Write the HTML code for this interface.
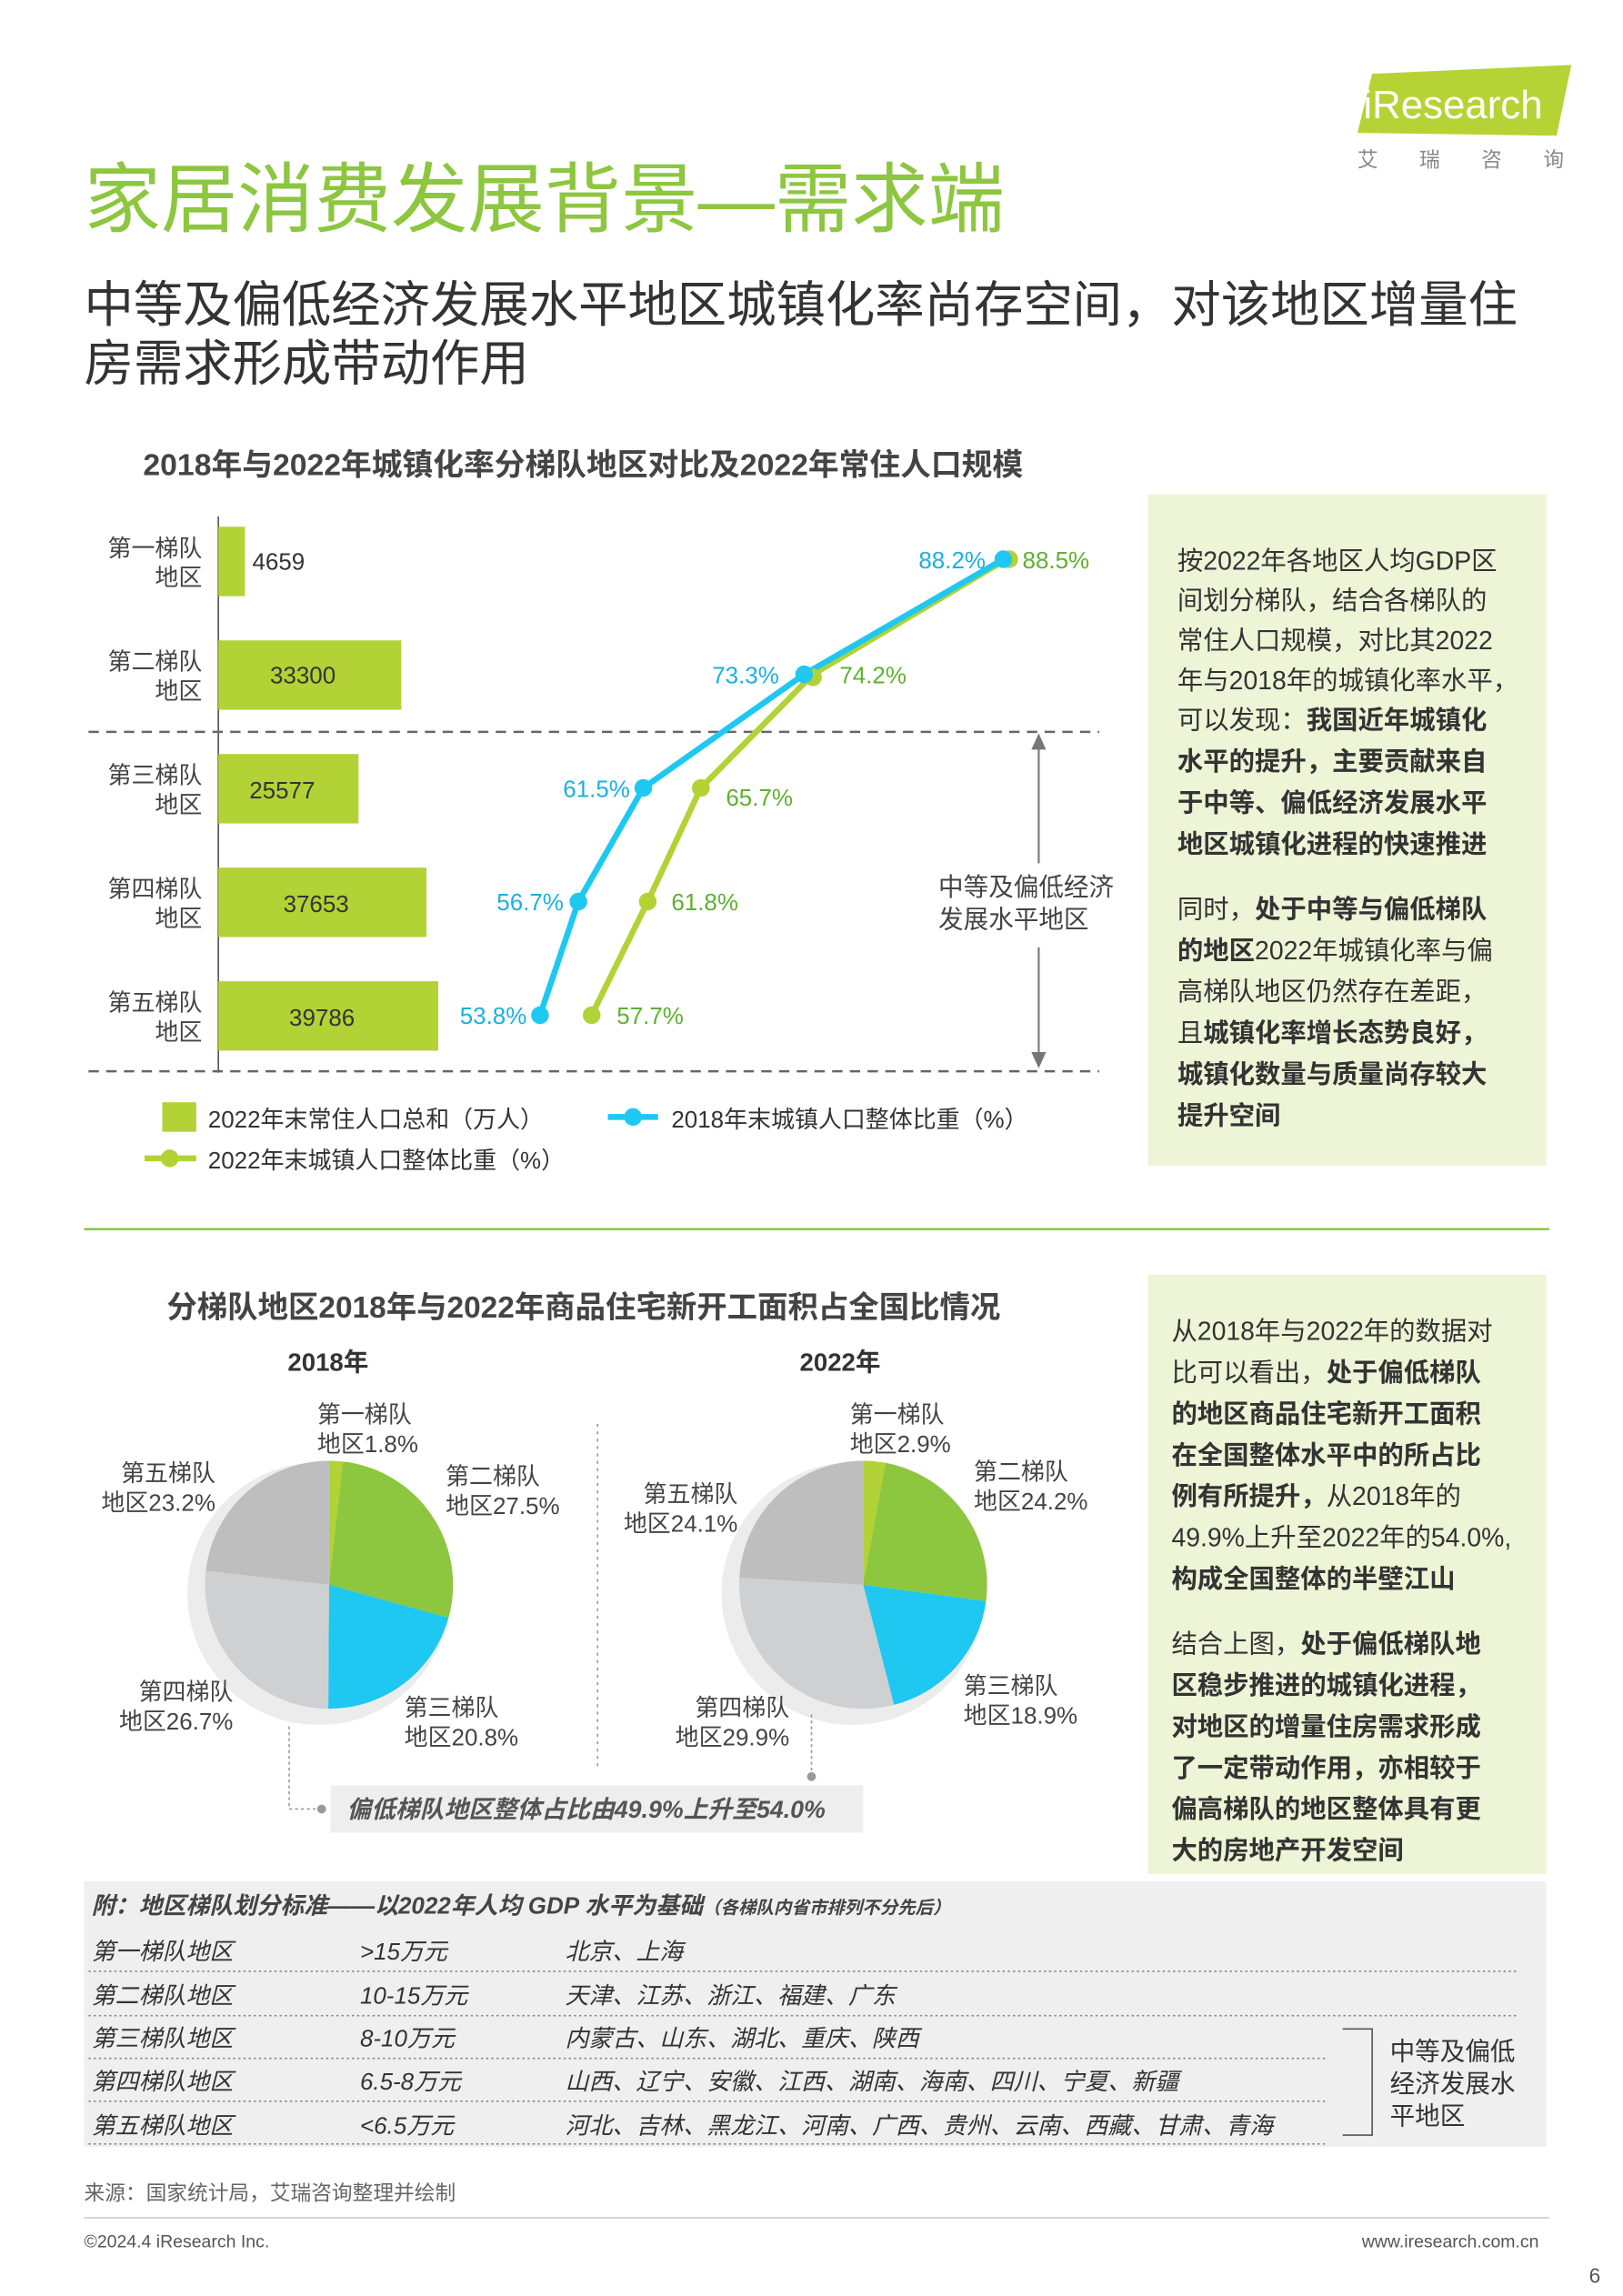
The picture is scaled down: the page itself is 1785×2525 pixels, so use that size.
<!DOCTYPE html>
<html><head><meta charset="utf-8"><style>
html,body{margin:0;padding:0;background:#fff;}
svg{display:block;font-family:"Liberation Sans","Noto Sans CJK SC",sans-serif;}
</style></head><body>
<svg width="1785" height="2525" viewBox="0 0 1100 1556" xmlns="http://www.w3.org/2000/svg">
<rect width="1100" height="1556" fill="#fff"/>
<!-- logo -->
<polygon points="930,50 1065,44 1055,92 920,90" fill="#b5d334"/>
<text x="924" y="80" font-size="27" fill="#fff" font-family="Liberation Sans,sans-serif">iResearch</text>
<text x="920" y="113" font-size="14" fill="#888" letter-spacing="28">艾瑞咨询</text>
<!-- titles -->
<text x="57" y="153" font-size="52" fill="#8dc63f">家居消费发展背景—需求端</text>
<text x="57" y="218" font-size="33.5" fill="#333">中等及偏低经济发展水平地区城镇化率尚存空间，对该地区增量住</text>
<text x="57" y="258" font-size="33.5" fill="#333">房需求形成带动作用</text>
<!-- chart 1 -->
<text x="97" y="322" font-size="20.8" font-weight="bold" fill="#444">2018年与2022年城镇化率分梯队地区对比及2022年常住人口规模</text>
<line x1="148" y1="350" x2="148" y2="727" stroke="#555" stroke-width="1"/>
<g fill="#b2d235">
<rect x="148" y="357" width="18" height="47"/>
<rect x="148" y="434" width="124" height="47"/>
<rect x="148" y="511" width="95" height="47"/>
<rect x="148" y="588" width="141" height="47"/>
<rect x="148" y="665" width="149" height="47"/>
</g>
<g font-size="16" fill="#333">
<text x="171" y="386">4659</text>
<text x="183" y="463">33300</text>
<text x="169" y="541">25577</text>
<text x="192" y="618">37653</text>
<text x="196" y="695">39786</text>
</g>
<g font-size="16" fill="#444" text-anchor="end">
<text x="137" y="377">第一梯队</text><text x="137" y="397">地区</text>
<text x="137" y="454">第二梯队</text><text x="137" y="474">地区</text>
<text x="137" y="531">第三梯队</text><text x="137" y="551">地区</text>
<text x="137" y="608">第四梯队</text><text x="137" y="628">地区</text>
<text x="137" y="685">第五梯队</text><text x="137" y="705">地区</text>
</g>
<line x1="60" y1="496" x2="745" y2="496" stroke="#666" stroke-width="1.5" stroke-dasharray="7,5"/>
<line x1="60" y1="726" x2="745" y2="726" stroke="#666" stroke-width="1.5" stroke-dasharray="7,5"/>
<line x1="704" y1="505" x2="704" y2="585" stroke="#777" stroke-width="1.3"/>
<line x1="704" y1="642" x2="704" y2="716" stroke="#777" stroke-width="1.3"/>
<polygon points="699,508 709,508 704,497" fill="#777"/>
<polygon points="699,713 709,713 704,724" fill="#777"/>
<text x="636" y="607" font-size="17" fill="#444">中等及偏低经济</text>
<text x="636" y="629" font-size="17" fill="#444">发展水平地区</text>
<polyline points="401,688 439,611 475,534 551,457 682,379" fill="none" stroke="#b2d235" stroke-width="4"/>
<polyline points="366,688 392,611 436,534 545,457 680,379" fill="none" stroke="#1ec8f0" stroke-width="4"/>
<g fill="#b2d235"><circle cx="401" cy="688" r="6"/><circle cx="439" cy="611" r="6"/><circle cx="475" cy="534" r="6"/><circle cx="551" cy="459" r="6"/><circle cx="684" cy="379" r="6"/></g>
<g fill="#1ec8f0"><circle cx="366" cy="688" r="6"/><circle cx="392" cy="611" r="6"/><circle cx="436" cy="534" r="6"/><circle cx="545" cy="457" r="6"/><circle cx="680" cy="379" r="6"/></g>
<g font-size="16" fill="#1ab0e0" text-anchor="end">
<text x="357" y="694">53.8%</text><text x="382" y="617">56.7%</text><text x="427" y="540">61.5%</text><text x="528" y="463">73.3%</text><text x="668" y="385">88.2%</text>
</g>
<g font-size="16" fill="#5fb030">
<text x="418" y="694">57.7%</text><text x="455" y="617">61.8%</text><text x="492" y="546">65.7%</text><text x="569" y="463">74.2%</text><text x="693" y="385">88.5%</text>
</g>
<rect x="110" y="747" width="23" height="20" fill="#b2d235"/>
<text x="141" y="764" font-size="16" fill="#333">2022年末常住人口总和（万人）</text>
<line x1="412" y1="757" x2="446" y2="757" stroke="#1ec8f0" stroke-width="4"/><circle cx="429" cy="757" r="6" fill="#1ec8f0"/>
<text x="455" y="764" font-size="16" fill="#333">2018年末城镇人口整体比重（%）</text>
<line x1="98" y1="785" x2="133" y2="785" stroke="#b2d235" stroke-width="4"/><circle cx="115" cy="785" r="6" fill="#b2d235"/>
<text x="141" y="792" font-size="16" fill="#333">2022年末城镇人口整体比重（%）</text>
<!-- right box 1 -->
<rect x="778" y="335" width="270" height="455" fill="#eef4d6"/>
<g font-size="17.5" fill="#333">
<text x="798" y="386">按2022年各地区人均GDP区</text>
<text x="798" y="413">间划分梯队，结合各梯队的</text>
<text x="798" y="440">常住人口规模，对比其2022</text>
<text x="798" y="467">年与2018年的城镇化率水平，</text>
<text x="798" y="494">可以发现：<tspan font-weight="bold">我国近年城镇化</tspan></text>
<text x="798" y="522" font-weight="bold">水平的提升，主要贡献来自</text>
<text x="798" y="550" font-weight="bold">于中等、偏低经济发展水平</text>
<text x="798" y="578" font-weight="bold">地区城镇化进程的快速推进</text>
<text x="798" y="622">同时，<tspan font-weight="bold">处于中等与偏低梯队</tspan></text>
<text x="798" y="650"><tspan font-weight="bold">的地区</tspan>2022年城镇化率与偏</text>
<text x="798" y="678">高梯队地区仍然存在差距，</text>
<text x="798" y="706">且<tspan font-weight="bold">城镇化率增长态势良好，</tspan></text>
<text x="798" y="734" font-weight="bold">城镇化数量与质量尚存较大</text>
<text x="798" y="762" font-weight="bold">提升空间</text>
</g>
<line x1="57" y1="833" x2="1050" y2="833" stroke="#8dc63f" stroke-width="1.5"/>
<!-- chart 2 -->
<text x="113" y="893" font-size="20.6" font-weight="bold" fill="#444">分梯队地区2018年与2022年商品住宅新开工面积占全国比情况</text>
<text x="195" y="929" font-size="17" font-weight="bold" fill="#333">2018年</text>
<text x="542" y="929" font-size="17" font-weight="bold" fill="#333">2022年</text>
<line x1="405" y1="965" x2="405" y2="1198" stroke="#999" stroke-dasharray="2,3"/>
<circle cx="216" cy="1080" r="89" fill="#ececec"/>
<path d="M223,1074 L223,990 A84,84 0 0 1 232.5,990.5 Z" fill="#b2d235"/>
<path d="M223,1074 L232.5,990.5 A84,84 0 0 1 304,1096.4 Z" fill="#8dc63f"/>
<path d="M223,1074 L304,1096.4 A84,84 0 0 1 222.5,1158 Z" fill="#1ec8f0"/>
<path d="M223,1074 L222.5,1158 A84,84 0 0 1 139.5,1064.5 Z" fill="#cfd0d2"/>
<path d="M223,1074 L139.5,1064.5 A84,84 0 0 1 223,990 Z" fill="#bebebe"/>
<circle cx="578" cy="1080" r="89" fill="#ececec"/>
<path d="M585,1074 L585,990 A84,84 0 0 1 600.2,991.4 Z" fill="#b2d235"/>
<path d="M585,1074 L600.2,991.4 A84,84 0 0 1 668.3,1085.1 Z" fill="#8dc63f"/>
<path d="M585,1074 L668.3,1085.1 A84,84 0 0 1 605.9,1155.4 Z" fill="#1ec8f0"/>
<path d="M585,1074 L605.9,1155.4 A84,84 0 0 1 501.1,1069.3 Z" fill="#cfd0d2"/>
<path d="M585,1074 L501.1,1069.3 A84,84 0 0 1 585,990 Z" fill="#bebebe"/>
<g font-size="16" fill="#444">
<text x="215" y="964">第一梯队</text><text x="215" y="984">地区1.8%</text>
<text x="302" y="1006">第二梯队</text><text x="302" y="1026">地区27.5%</text>
<text x="274" y="1163">第三梯队</text><text x="274" y="1183">地区20.8%</text>
<text x="158" y="1152" text-anchor="end">第四梯队</text><text x="158" y="1172" text-anchor="end">地区26.7%</text>
<text x="146" y="1004" text-anchor="end">第五梯队</text><text x="146" y="1024" text-anchor="end">地区23.2%</text>
<text x="576" y="964">第一梯队</text><text x="576" y="984">地区2.9%</text>
<text x="660" y="1003">第二梯队</text><text x="660" y="1023">地区24.2%</text>
<text x="653" y="1148">第三梯队</text><text x="653" y="1168">地区18.9%</text>
<text x="535" y="1163" text-anchor="end">第四梯队</text><text x="535" y="1183" text-anchor="end">地区29.9%</text>
<text x="500" y="1018" text-anchor="end">第五梯队</text><text x="500" y="1038" text-anchor="end">地区24.1%</text>
</g>
<polyline points="196,1170 196,1226 215,1226" fill="none" stroke="#999" stroke-dasharray="2,2"/>
<circle cx="218" cy="1226" r="3" fill="#999"/>
<line x1="550" y1="1162" x2="550" y2="1200" stroke="#999" stroke-dasharray="2,2"/>
<circle cx="550" cy="1204" r="3" fill="#999"/>
<rect x="224" y="1210" width="361" height="32" fill="#eeeeee"/>
<text x="235" y="1232" font-size="16.5" font-weight="bold" font-style="italic" fill="#555">偏低梯队地区整体占比由49.9%上升至54.0%</text>
<!-- right box 2 -->
<rect x="778" y="864" width="270" height="406" fill="#eef4d6"/>
<g font-size="17.5" fill="#333">
<text x="794" y="908">从2018年与2022年的数据对</text>
<text x="794" y="936">比可以看出，<tspan font-weight="bold">处于偏低梯队</tspan></text>
<text x="794" y="964" font-weight="bold">的地区商品住宅新开工面积</text>
<text x="794" y="992" font-weight="bold">在全国整体水平中的所占比</text>
<text x="794" y="1020"><tspan font-weight="bold">例有所提升，</tspan>从2018年的</text>
<text x="794" y="1048">49.9%上升至2022年的54.0%,</text>
<text x="794" y="1076" font-weight="bold">构成全国整体的半壁江山</text>
<text x="794" y="1120">结合上图，<tspan font-weight="bold">处于偏低梯队地</tspan></text>
<text x="794" y="1148" font-weight="bold">区稳步推进的城镇化进程，</text>
<text x="794" y="1176" font-weight="bold">对地区的增量住房需求形成</text>
<text x="794" y="1204" font-weight="bold">了一定带动作用，亦相较于</text>
<text x="794" y="1232" font-weight="bold">偏高梯队的地区整体具有更</text>
<text x="794" y="1260" font-weight="bold">大的房地产开发空间</text>
</g>
<!-- table -->
<rect x="57" y="1275" width="991" height="180" fill="#efefef"/>
<text x="62" y="1297" font-size="16" font-weight="bold" font-style="italic" fill="#444">附：地区梯队划分标准——以2022年人均 GDP 水平为基础<tspan font-size="12">（各梯队内省市排列不分先后）</tspan></text>
<g stroke="#888" stroke-dasharray="1.5,2">
<line x1="60" y1="1336" x2="1028" y2="1336"/><line x1="60" y1="1366" x2="1028" y2="1366"/><line x1="60" y1="1395" x2="900" y2="1395"/><line x1="60" y1="1424" x2="900" y2="1424"/><line x1="60" y1="1453" x2="900" y2="1453"/>
</g>
<g font-size="16" font-style="italic" fill="#333">
<text x="62" y="1328">第一梯队地区</text><text x="244" y="1328">&gt;15万元</text><text x="383" y="1328">北京、上海</text>
<text x="62" y="1358">第二梯队地区</text><text x="244" y="1358">10-15万元</text><text x="383" y="1358">天津、江苏、浙江、福建、广东</text>
<text x="62" y="1387">第三梯队地区</text><text x="244" y="1387">8-10万元</text><text x="383" y="1387">内蒙古、山东、湖北、重庆、陕西</text>
<text x="62" y="1416">第四梯队地区</text><text x="244" y="1416">6.5-8万元</text><text x="383" y="1416">山西、辽宁、安徽、江西、湖南、海南、四川、宁夏、新疆</text>
<text x="62" y="1446">第五梯队地区</text><text x="244" y="1446">&lt;6.5万元</text><text x="383" y="1446">河北、吉林、黑龙江、河南、广西、贵州、云南、西藏、甘肃、青海</text>
</g>
<polyline points="910,1375 930,1375 930,1447 910,1447" fill="none" stroke="#555"/>
<text x="942" y="1396" font-size="17" fill="#333">中等及偏低</text>
<text x="942" y="1418" font-size="17" fill="#333">经济发展水</text>
<text x="942" y="1440" font-size="17" fill="#333">平地区</text>
<text x="57" y="1491" font-size="14" fill="#666">来源：国家统计局，艾瑞咨询整理并绘制</text>
<line x1="57" y1="1503" x2="1050" y2="1503" stroke="#ccc"/>
<text x="57" y="1523" font-size="12" fill="#555">©2024.4 iResearch Inc.</text>
<text x="1043" y="1523" font-size="12" fill="#555" text-anchor="end">www.iresearch.com.cn</text>
<text x="1077" y="1547" font-size="14" fill="#555">6</text>
</svg>
</body></html>
